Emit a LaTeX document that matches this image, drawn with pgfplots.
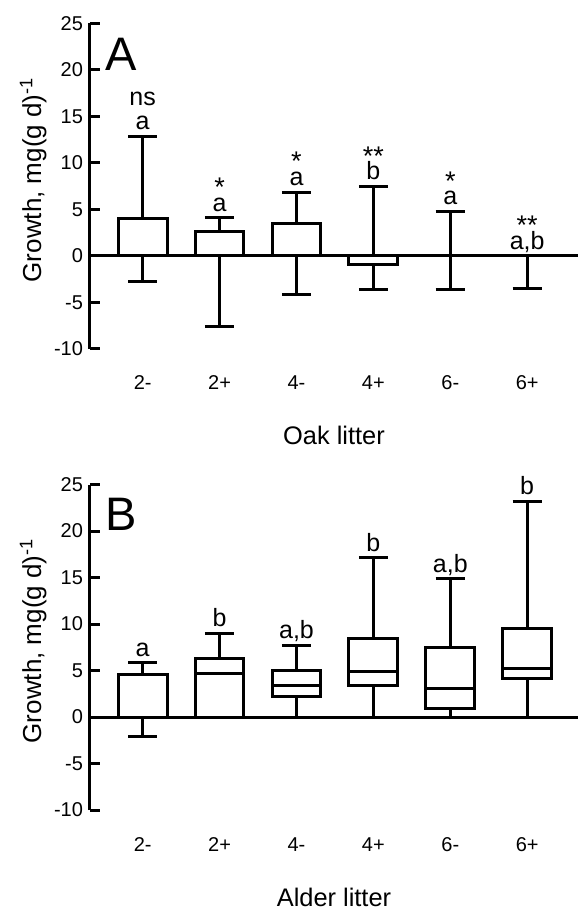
\documentclass[border=0pt]{standalone}
\usepackage{fontspec}
\setmainfont{Liberation Sans}
\usepackage{pgfplots}
\pgfplotsset{compat=1.18}
\usepgfplotslibrary{statistics}

\pgfplotsset{
  growth/.style={
    scale only axis, width=244bp, height=162.75bp, anchor=south west,
    xmin=-0.685, xmax=5.661, ymin=-10, ymax=25,
    clip=false,
    axis y line=left, axis x line=bottom,
    axis line style={-, line width=1.5bp, black},
    x axis line style={draw=none},
    xtick={0,...,5}, xticklabels={2-,2+,4-,4+,6-,6+},
    xtick style={draw=none},
    ytick={-10,-5,...,25}, yticklabels={-10,-5,0,5,10,15,20,25},
    tick align=inside, major tick length=5bp,
    ytick style={line width=1.5bp, black},
    tick label style={font=\fontsize{10bp}{12bp}\selectfont},
    xticklabel style={anchor=base, yshift=-20.5bp},
    ylabel={Growth, mg(g d)\textsuperscript{-1}},
    every axis y label/.style={at={(axis description cs:-0.1004,0.52)},
      rotate=90, anchor=base, font=\fontsize{13bp}{15bp}\selectfont},
    every axis x label/.style={at={(axis description cs:0.5,0)},
      anchor=base, yshift=-48bp, font=\fontsize{12.7bp}{15bp}\selectfont},
  },
  bx/.style={black, line width=1.5bp, solid, mark=none,
    boxplot/draw direction=y,
    boxplot/box extend=0.635, boxplot/whisker extend=0.38},
}
\tikzset{
  lab/.style={anchor=base, inner sep=0pt, yshift=3.3bp, font=\fontsize{12.5bp}{14bp}\selectfont},
  star/.style={anchor=base, inner sep=0pt, yshift=10.6bp, font=\fontsize{13.5bp}{16bp}\selectfont},
  panel/.style={anchor=base west, inner sep=0pt, font=\fontsize{23.5bp}{26bp}\selectfont},
}

\begin{document}
\begin{tikzpicture}
% A: oak litter
\begin{axis}[growth, at={(45bp,280bp)}, xlabel={Oak litter}]
  \addplot[line width=1.5bp, black] coordinates {(-0.685,0) (5.661,0)};
  \addplot[bx, boxplot prepared={draw position=0, lower whisker=-2.72, lower quartile=0, median=0, upper quartile=4.02, upper whisker=12.9}] coordinates {};
  \addplot[bx, boxplot prepared={draw position=1, lower whisker=-7.53, lower quartile=0, median=0, upper quartile=2.66, upper whisker=4.09}] coordinates {};
  \addplot[bx, boxplot prepared={draw position=2, lower whisker=-4.15, lower quartile=0, median=0, upper quartile=3.48, upper whisker=6.88}] coordinates {};
  \addplot[bx, boxplot prepared={draw position=3, lower whisker=-3.62, lower quartile=-0.93, median=0, upper quartile=0, upper whisker=7.5}] coordinates {};
  \addplot[bx, boxplot prepared={draw position=4, lower whisker=-3.62, lower quartile=0, median=0, upper quartile=0, upper whisker=4.81}] coordinates {};
  \addplot[bx, boxplot prepared={draw position=5, lower whisker=-3.51, lower quartile=0, median=0, upper quartile=0, upper whisker=0}] coordinates {};
  \node[panel] at (axis description cs:0.031,0.857) {A};
  \node[lab] at (axis cs:0,12.9) {a};
  \node[lab] at (axis cs:1,4.09) {a};
  \node[lab] at (axis cs:2,6.88) {a};
  \node[lab] at (axis cs:3,7.5) {b};
  \node[lab] at (axis cs:4,4.81) {a};
  \node[lab] at (axis cs:5,0) {a,b};
  \node[lab, yshift=12bp] at (axis cs:0,12.9) {ns};
  \node[star] at (axis cs:1,4.09) {*};
  \node[star] at (axis cs:2,6.88) {*};
  \node[star] at (axis cs:3,7.5) {**};
  \node[star] at (axis cs:4,4.81) {*};
  \node[star] at (axis cs:5,0) {**};
\end{axis}
% B: alder litter
\begin{axis}[growth, at={(45bp,49.5bp)}, xlabel={Alder litter}]
  \addplot[line width=1.5bp, black] coordinates {(-0.685,0) (5.661,0)};
  \addplot[bx, boxplot prepared={draw position=0, lower whisker=-2.13, lower quartile=0, median=0, upper quartile=4.58, upper whisker=5.84}] coordinates {};
  \addplot[bx, boxplot prepared={draw position=1, lower whisker=0, lower quartile=0, median=4.72, upper quartile=6.27, upper whisker=9.03}] coordinates {};
  \addplot[bx, boxplot prepared={draw position=2, lower whisker=0, lower quartile=2.17, median=3.39, upper quartile=5.04, upper whisker=7.7}] coordinates {};
  \addplot[bx, boxplot prepared={draw position=3, lower whisker=0, lower quartile=3.39, median=4.87, upper quartile=8.42, upper whisker=17.1}] coordinates {};
  \addplot[bx, boxplot prepared={draw position=4, lower whisker=0, lower quartile=0.92, median=3.04, upper quartile=7.45, upper whisker=14.88}] coordinates {};
  \addplot[bx, boxplot prepared={draw position=5, lower whisker=0, lower quartile=4.11, median=5.22, upper quartile=9.5, upper whisker=23.17}] coordinates {};
  \node[panel] at (axis description cs:0.031,0.86) {B};
  \node[lab] at (axis cs:0,5.84) {a};
  \node[lab] at (axis cs:1,9.03) {b};
  \node[lab] at (axis cs:2,7.7) {a,b};
  \node[lab] at (axis cs:3,17.1) {b};
  \node[lab] at (axis cs:4,14.88) {a,b};
  \node[lab] at (axis cs:5,23.17) {b};
\end{axis}
\pgfresetboundingbox
\path (0,0) rectangle (289bp,454.5bp);
\end{tikzpicture}
\end{document}
